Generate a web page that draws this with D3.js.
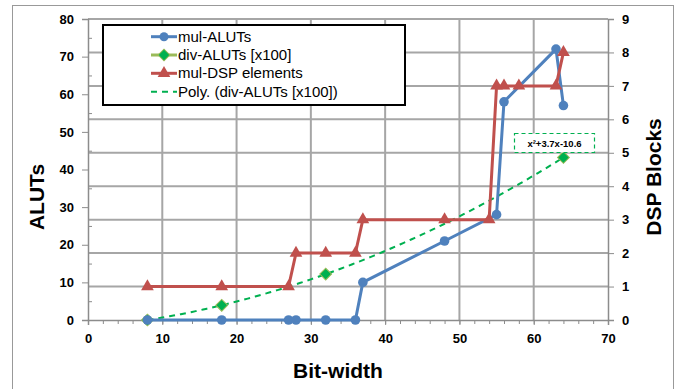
<!DOCTYPE html>
<html>
<head>
<meta charset="utf-8">
<script src="https://cdn.jsdelivr.net/npm/d3@7"></script>
<style>
  body { margin: 0; background: #fff; }
  svg { font-family: "Liberation Sans", Arial, sans-serif; }
</style>
</head>
<body>
<svg id="chart" width="683" height="389"></svg>
<script>
// mul-ALUTs (left axis)
var mulX = [8, 18, 27, 28, 32, 36, 37, 48, 55, 56, 63, 64];
var mulALUTs = [0, 0, 0, 0, 0, 0, 10, 21, 28, 58, 72, 57];
// div-ALUTs [x100] (left axis, markers only)
var divX = [8, 18, 32, 64];
var divALUTs = [0, 3.9, 12.2, 43.2];
// mul-DSP elements (right axis)
var dspX = [8, 18, 27, 28, 32, 36, 37, 48, 54, 55, 56, 58, 63, 64];
var dspBlocks = [1, 1, 1, 2, 2, 2, 3, 3, 3, 7, 7, 7, 7, 8];
var legendLabels = ["mul-ALUTs", "div-ALUTs [x100]", "mul-DSP elements", "Poly. (div-ALUTs [x100])"];
var trendLabel = "x\u00b2+3.7x-10.6";

var svg = d3.select("#chart");
var plotLeft = 88, plotRight = 608, plotTop = 19, plotBottom = 320;

var x = d3.scaleLinear().domain([0, 70]).range([plotLeft, plotRight]);
var yL = d3.scaleLinear().domain([0, 80]).range([plotBottom, plotTop]);
var yR = d3.scaleLinear().domain([0, 9]).range([plotBottom, plotTop]);

var blue = "#4F81BD", red = "#C0504D", green = "#00B050", olive = "#9BBB59";
var gridCol = "#a6a6a6", axisCol = "#8c8c8c";

//outer frame
svg.append("rect").attr("x", 12.5).attr("y", 5.5).attr("width", 661).attr("height", 390)
  .attr("fill", "none").attr("stroke", "#999").attr("stroke-width", 1);

//gridlines: vertical every 10, horizontal from the DSP axis
svg.append("g").selectAll("line").data(d3.range(10, 70, 10)).enter().append("line")
  .attr("x1", function(d) {return x(d);}).attr("x2", function(d) {return x(d);})
  .attr("y1", plotTop).attr("y2", plotBottom)
  .attr("stroke", gridCol).attr("stroke-width", 2);
svg.append("g").selectAll("line").data(d3.range(1, 10)).enter().append("line")
  .attr("x1", plotLeft).attr("x2", plotRight)
  .attr("y1", function(d) {return yR(d);}).attr("y2", function(d) {return yR(d);})
  .attr("stroke", gridCol).attr("stroke-width", 2);

//axes
function styleAxis(g) {
  g.select(".domain").attr("stroke", axisCol).attr("stroke-width", 1.5);
  g.selectAll(".tick line").attr("stroke", axisCol);
  g.selectAll("text").attr("font-size", 13).attr("font-weight", "bold").attr("fill", "#000");
}
//minor ticks
svg.append("g").attr("transform", "translate(0," + plotBottom + ")")
  .call(d3.axisBottom(x).tickValues(d3.range(0, 71, 2)).tickSize(4).tickFormat(""))
  .call(function(g) {g.select(".domain").remove(); g.selectAll(".tick line").attr("stroke", axisCol);});
svg.append("g").attr("transform", "translate(" + plotLeft + ",0)")
  .call(d3.axisRight(yL).tickValues(d3.range(5, 80, 10)).tickSize(4).tickFormat(""))
  .call(function(g) {g.select(".domain").remove(); g.selectAll(".tick line").attr("stroke", axisCol);});

svg.append("g").attr("transform", "translate(0," + plotBottom + ")")
  .call(d3.axisBottom(x).tickValues(d3.range(0, 71, 10)).tickSize(5).tickPadding(9))
  .call(styleAxis);
svg.append("g").attr("transform", "translate(" + plotLeft + ",0)")
  .call(d3.axisLeft(yL).tickValues(d3.range(0, 81, 10)).tickSize(6).tickPadding(8))
  .call(styleAxis);
svg.append("g").attr("transform", "translate(" + plotRight + ",0)")
  .call(d3.axisRight(yR).tickValues(d3.range(0, 10)).tickSize(6).tickPadding(8))
  .call(styleAxis);

//axis titles
svg.append("text").attr("transform", "translate(44,197) rotate(-90)")
  .attr("text-anchor", "middle").attr("font-size", 21).attr("font-weight", "bold").text("ALUTs");
svg.append("text").attr("transform", "translate(661,177) rotate(-90)")
  .attr("text-anchor", "middle").attr("font-size", 21).attr("font-weight", "bold").text("DSP Blocks");
svg.append("text").attr("x", 338).attr("y", 378)
  .attr("text-anchor", "middle").attr("font-size", 21).attr("font-weight", "bold").text("Bit-width");

//quadratic least-squares trendline of div-ALUTs
function quadFit(xs, ys) {
  var s = [0, 0, 0, 0, 0], t = [0, 0, 0];
  xs.forEach(function(xv, i) {
    for (var k = 0; k < 5; k++) s[k] += Math.pow(xv, k);
    for (var k = 0; k < 3; k++) t[k] += ys[i] * Math.pow(xv, k);
  });
  var m = [[s[0], s[1], s[2], t[0]], [s[1], s[2], s[3], t[1]], [s[2], s[3], s[4], t[2]]];
  for (var i = 0; i < 3; i++) {
    for (var j = i + 1; j < 3; j++) {
      var f = m[j][i] / m[i][i];
      for (var k = i; k < 4; k++) m[j][k] -= f * m[i][k];
    }
  }
  var c = [0, 0, 0];
  for (var i = 2; i >= 0; i--) {
    var v = m[i][3];
    for (var k = i + 1; k < 3; k++) v -= m[i][k] * c[k];
    c[i] = v / m[i][i];
  }
  return c;
}
var coef = quadFit(divX, divALUTs);
var trendX = d3.range(divX[0], divX[divX.length - 1] + 0.01, 0.5);
svg.append("path").datum(trendX)
  .attr("d", d3.line().x(function(d) {return x(d);})
    .y(function(d) {return yL(Math.max(0, coef[0] + coef[1] * d + coef[2] * d * d));}))
  .attr("fill", "none").attr("stroke", green).attr("stroke-width", 2).attr("stroke-dasharray", "6,5");

//div-ALUTs diamonds
var diamond = d3.symbol().type(d3.symbolSquare).size(70);
svg.append("g").selectAll("path").data(divX).enter().append("path")
  .attr("d", diamond)
  .attr("transform", function(d, i) {return "translate(" + x(d) + "," + yL(divALUTs[i]) + ") rotate(45)";})
  .attr("fill", green).attr("stroke", olive).attr("stroke-width", 1);

//mul-ALUTs
svg.append("path").datum(mulX)
  .attr("d", d3.line().x(function(d) {return x(d);}).y(function(d, i) {return yL(mulALUTs[i]);}))
  .attr("fill", "none").attr("stroke", blue).attr("stroke-width", 3);
svg.append("g").selectAll("circle").data(mulX).enter().append("circle")
  .attr("cx", function(d) {return x(d);}).attr("cy", function(d, i) {return yL(mulALUTs[i]);})
  .attr("r", 4.8).attr("fill", blue);

//mul-DSP elements
var tri = d3.symbol().type(d3.symbolTriangle).size(70);
svg.append("path").datum(dspX)
  .attr("d", d3.line().x(function(d) {return x(d);}).y(function(d, i) {return yR(dspBlocks[i]);}))
  .attr("fill", "none").attr("stroke", red).attr("stroke-width", 3);
svg.append("g").selectAll("path").data(dspX).enter().append("path")
  .attr("d", tri)
  .attr("transform", function(d, i) {return "translate(" + x(d) + "," + yR(dspBlocks[i]) + ")";})
  .attr("fill", red);

//trendline label
svg.append("rect").attr("x", 514.5).attr("y", 133.5).attr("width", 80).attr("height", 19)
  .attr("fill", "#fff").attr("stroke", green).attr("stroke-width", 1.2).attr("stroke-dasharray", "4,3");
svg.append("text").attr("x", 554.5).attr("y", 146.5).attr("text-anchor", "middle")
  .attr("font-size", 9.5).attr("font-weight", "bold").text(trendLabel);

//legend
var legend = svg.append("g");
legend.append("rect").attr("x", 103).attr("y", 25).attr("width", 302).attr("height", 80)
  .attr("fill", "#fff").attr("stroke", "#000").attr("stroke-width", 2);
var rowY = [36.7, 55, 73.3, 91.7];
var rows = legend.selectAll("g.row").data(legendLabels).enter().append("g")
  .attr("class", "row").attr("transform", function(d, i) {return "translate(0," + rowY[i] + ")";});
rows.append("text").attr("x", 178).attr("y", 5).attr("font-size", 15).text(function(d) {return d;});
var lineCols = [blue, olive, red, green];
rows.append("line").attr("x1", 151).attr("x2", 177).attr("y1", 0).attr("y2", 0)
  .attr("stroke", function(d, i) {return lineCols[i];})
  .attr("stroke-width", function(d, i) {return i == 3 ? 2 : 3;})
  .attr("stroke-dasharray", function(d, i) {return i == 3 ? "6,5" : null;});
rows.filter(function(d, i) {return i == 0;}).append("circle").attr("cx", 164).attr("cy", 0).attr("r", 4.5).attr("fill", blue);
rows.filter(function(d, i) {return i == 1;}).append("path").attr("d", diamond)
  .attr("transform", "translate(164,0) rotate(45)").attr("fill", green).attr("stroke", olive);
rows.filter(function(d, i) {return i == 2;}).append("path").attr("d", tri)
  .attr("transform", "translate(164,0)").attr("fill", red);
</script>
</body>
</html>
